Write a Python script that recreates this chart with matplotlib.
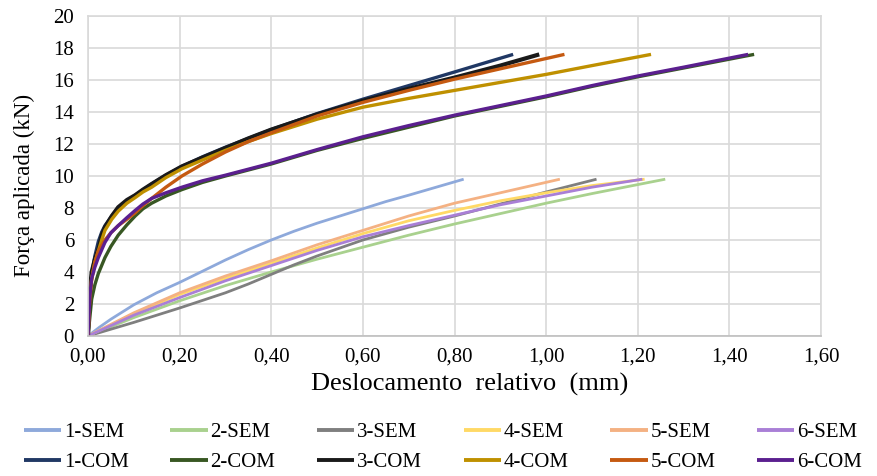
import matplotlib
matplotlib.use("Agg")
import matplotlib.pyplot as plt
from matplotlib.ticker import FixedLocator

plt.rcParams['font.family'] = ['Liberation Serif', 'DejaVu Serif']

# ---- data ----
s1_x = [0, 0.025, 0.05, 0.075, 0.10, 0.15, 0.20, 0.25, 0.30, 0.35, 0.40, 0.45, 0.50, 0.55, 0.60, 0.65, 0.70, 0.76, 0.82]
s1_y = [0, 0.55, 1.05, 1.5, 1.95, 2.7, 3.35, 4.05, 4.75, 5.4, 6.0, 6.55, 7.05, 7.5, 7.95, 8.4, 8.8, 9.3, 9.8]

s2_x = [0, 0.1, 0.2, 0.3, 0.4, 0.5, 0.6, 0.7, 0.8, 0.9, 1.0, 1.1, 1.26]
s2_y = [0, 1.15, 2.2, 3.15, 4.0, 4.8, 5.55, 6.3, 7.0, 7.65, 8.3, 8.9, 9.8]

s3_x = [0, 0.1, 0.2, 0.3, 0.35, 0.4, 0.45, 0.5, 0.6, 0.7, 0.8, 0.9, 1.0, 1.11]
s3_y = [0, 0.85, 1.75, 2.7, 3.25, 3.85, 4.45, 5.0, 6.0, 6.8, 7.5, 8.25, 9.0, 9.8]

s4_x = [0, 0.1, 0.2, 0.3, 0.4, 0.5, 0.6, 0.7, 0.8, 0.9, 1.0, 1.1, 1.215]
s4_y = [0, 1.4, 2.6, 3.6, 4.55, 5.5, 6.4, 7.2, 7.85, 8.45, 8.95, 9.4, 9.8]

s5_x = [0, 0.1, 0.2, 0.3, 0.4, 0.5, 0.6, 0.7, 0.8, 0.9, 1.03]
s5_y = [0, 1.45, 2.7, 3.75, 4.7, 5.7, 6.6, 7.5, 8.3, 8.95, 9.8]

s6_x = [0, 0.1, 0.2, 0.3, 0.4, 0.5, 0.6, 0.7, 0.8, 0.9, 1.0, 1.1, 1.21]
s6_y = [0, 1.3, 2.4, 3.45, 4.4, 5.35, 6.2, 6.9, 7.55, 8.2, 8.75, 9.3, 9.8]

c1_x = [0, 0.004, 0.008, 0.015, 0.0225, 0.03, 0.037, 0.052, 0.066, 0.085, 0.103, 0.139, 0.17, 0.205, 0.25, 0.3, 0.35, 0.4, 0.5, 0.6, 0.7, 0.8, 0.928]
c1_y = [0, 2.6, 3.8, 5.0, 5.9, 6.5, 6.9, 7.5, 8.0, 8.45, 8.8, 9.5, 10.05, 10.6, 11.2, 11.8, 12.35, 12.9, 13.9, 14.8, 15.65, 16.5, 17.6]

c2_x = [0, 0.008, 0.015, 0.0225, 0.037, 0.05, 0.066, 0.085, 0.103, 0.12, 0.139, 0.17, 0.205, 0.25, 0.3, 0.4, 0.5, 0.6, 0.7, 0.8, 0.9, 1.0, 1.1, 1.2, 1.3, 1.454]
c2_y = [0, 2.3, 3.2, 3.9, 4.9, 5.6, 6.3, 6.95, 7.5, 7.95, 8.3, 8.75, 9.15, 9.6, 10.0, 10.75, 11.6, 12.35, 13.05, 13.75, 14.35, 14.95, 15.6, 16.2, 16.75, 17.6]

c3_x = [0, 0.004, 0.008, 0.015, 0.0225, 0.03, 0.037, 0.052, 0.066, 0.085, 0.103, 0.12, 0.139, 0.17, 0.205, 0.25, 0.3, 0.35, 0.4, 0.5, 0.6, 0.7, 0.8, 0.9, 0.985]
c3_y = [0, 2.8, 4.0, 4.8, 5.4, 6.3, 6.8, 7.5, 8.05, 8.5, 8.8, 9.15, 9.5, 10.05, 10.6, 11.15, 11.75, 12.35, 12.9, 13.85, 14.7, 15.45, 16.15, 16.9, 17.6]

c4_x = [0, 0.004, 0.008, 0.015, 0.0225, 0.03, 0.037, 0.052, 0.066, 0.085, 0.103, 0.12, 0.139, 0.17, 0.205, 0.25, 0.3, 0.35, 0.4, 0.5, 0.6, 0.7, 0.8, 0.9, 1.0, 1.1, 1.229]
c4_y = [0, 2.5, 3.6, 4.6, 5.3, 6.0, 6.6, 7.3, 7.8, 8.3, 8.65, 9.0, 9.3, 9.9, 10.45, 11.0, 11.6, 12.15, 12.65, 13.55, 14.3, 14.85, 15.35, 15.85, 16.35, 16.9, 17.6]

c5_x = [0, 0.004, 0.008, 0.015, 0.0225, 0.037, 0.05, 0.066, 0.085, 0.103, 0.12, 0.139, 0.17, 0.205, 0.25, 0.3, 0.35, 0.4, 0.5, 0.6, 0.7, 0.8, 0.9, 1.04]
c5_y = [0, 2.4, 3.5, 4.6, 5.3, 6.0, 6.45, 6.9, 7.3, 7.7, 8.15, 8.6, 9.3, 10.0, 10.75, 11.5, 12.15, 12.7, 13.75, 14.6, 15.35, 16.05, 16.7, 17.6]

c6_x = [0, 0.004, 0.008, 0.015, 0.0225, 0.037, 0.05, 0.066, 0.085, 0.103, 0.12, 0.139, 0.17, 0.205, 0.25, 0.3, 0.4, 0.5, 0.6, 0.7, 0.8, 0.9, 1.0, 1.1, 1.2, 1.3, 1.441]
c6_y = [0, 2.5, 3.6, 4.3, 4.9, 5.85, 6.45, 6.9, 7.4, 7.85, 8.25, 8.6, 8.95, 9.3, 9.7, 10.05, 10.8, 11.65, 12.45, 13.15, 13.8, 14.4, 15.0, 15.65, 16.25, 16.8, 17.6]

sem_labels = ['1-SEM', '2-SEM', '3-SEM', '4-SEM', '5-SEM', '6-SEM']
com_labels = ['1-COM', '2-COM', '3-COM', '4-COM', '5-COM', '6-COM']
sem_colors = ['#8EA9DB', '#A9D18E', '#7F7F7F', '#FFD966', '#F4B183', '#A97FD6']
com_colors = ['#203864', '#385723', '#1A1A1A', '#BF9000', '#C55A11', '#5B1F8F']

x_ticks = [0.0, 0.2, 0.4, 0.6, 0.8, 1.0, 1.2, 1.4, 1.6]
x_ticklabels = ['0,00', '0,20', '0,40', '0,60', '0,80', '1,00', '1,20', '1,40', '1,60']
y_ticks = [0, 2, 4, 6, 8, 10, 12, 14, 16, 18, 20]

sem_data = [(s1_x, s1_y), (s2_x, s2_y), (s3_x, s3_y), (s4_x, s4_y), (s5_x, s5_y), (s6_x, s6_y)]
com_data = [(c1_x, c1_y), (c2_x, c2_y), (c3_x, c3_y), (c4_x, c4_y), (c5_x, c5_y), (c6_x, c6_y)]

fig = plt.figure(figsize=(8.77, 4.76), dpi=100)
ax = fig.add_axes([88/877, 1 - 336/476, (821 - 88)/877, (336 - 16)/476])

sem_handles = []
for (x, y), lab, col in zip(sem_data, sem_labels, sem_colors):
    h, = ax.plot(x, y, color=col, lw=2.0, label=lab, solid_capstyle='butt',
                 solid_joinstyle='round')
    sem_handles.append(h)
com_handles = []
for (x, y), lab, col in zip(com_data, com_labels, com_colors):
    lw = 3.0 if lab == '3-COM' else 2.4
    h, = ax.plot(x, y, color=col, lw=lw, label=lab, solid_capstyle='butt',
                 solid_joinstyle='round')
    com_handles.append(h)

ax.set_xlim(0, 1.6)
ax.set_ylim(0, 20)
ax.xaxis.set_major_locator(FixedLocator(x_ticks))
ax.set_xticklabels(x_ticklabels)
ax.yaxis.set_major_locator(FixedLocator(y_ticks))
ax.grid(True, color='#D9D9D9', lw=1.2)
ax.set_axisbelow(True)
for sp in ax.spines.values():
    sp.set_color('#D9D9D9')
    sp.set_linewidth(1.2)
ax.spines['bottom'].set_color('#BFBFBF')
ax.tick_params(axis='both', length=0, labelsize=15, colors='#000000')
ax.tick_params(axis='x', pad=8)
ax.tick_params(axis='y', pad=10)
ax.set_xlabel('Deslocamento  relativo  (mm)', fontsize=19)
ax.set_ylabel('Força aplicada (kN)', fontsize=16.5)
ax.xaxis.set_label_coords(0.52, -0.115)
ax.yaxis.set_label_coords(-0.072, 0.47)

handles = []
labels = []
for hs, hc in zip(sem_handles, com_handles):
    handles += [hs, hc]
    labels += [hs.get_label(), hc.get_label()]
leg = fig.legend(handles, labels, ncol=6, loc='center', bbox_to_anchor=(0.505, 1 - 447/476),
                 frameon=False, fontsize=15, handlelength=1.8, handletextpad=0.12,
                 columnspacing=2.0, labelspacing=0.5)
for lh in leg.get_lines():
    lh.set_linewidth(2.8)

fig.savefig('out.png', dpi=100)
